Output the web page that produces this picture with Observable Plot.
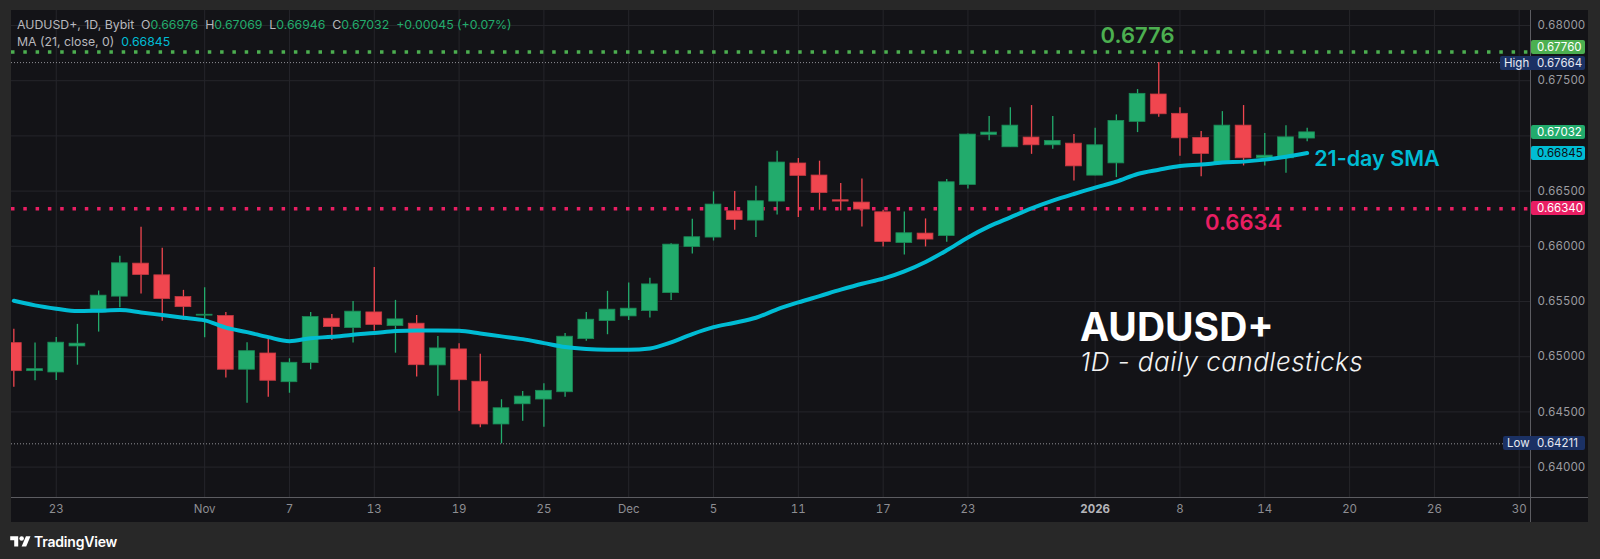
<!DOCTYPE html>
<html>
<head>
<meta charset="utf-8">
<script src="https://cdn.jsdelivr.net/npm/d3@7"></script>
<script src="https://cdn.jsdelivr.net/npm/@observablehq/plot@0.6"></script>
<style>
html, body { margin: 0; padding: 0; background: #282828; }
#wrap { position: relative; width: 1600px; height: 559px; overflow: hidden; background: #282828; font-family: Inter, Roboto, "Noto Sans", sans-serif; }
#panel { position: absolute; left: 11px; top: 10px; width: 1577px; height: 512px; background: #131317; }
#chart { position: absolute; left: 0; top: 0; }
.ov { position: absolute; white-space: nowrap; }
.box { position: absolute; height: 14px; line-height: 14px; font-size: 11.5px; border-radius: 2px; color: #fff; box-sizing: border-box; }
.hdr { position: absolute; left: 17px; font-size: 12.3px; color: #b8b8bd; white-space: pre; }
</style>
</head>
<body>
<div id="wrap">
  <div id="panel"></div>
  <div id="chart"></div>
</div>
<script>
// ---- trading days shown (daily candles) ----
const dates = [
  "2025-10-21","2025-10-22","2025-10-23","2025-10-24","2025-10-27","2025-10-28","2025-10-29","2025-10-30","2025-10-31",
  "2025-11-03","2025-11-04","2025-11-05","2025-11-06","2025-11-07","2025-11-10","2025-11-11","2025-11-12","2025-11-13",
  "2025-11-14","2025-11-17","2025-11-18","2025-11-19","2025-11-20","2025-11-21","2025-11-24","2025-11-25","2025-11-26",
  "2025-11-27","2025-11-28","2025-12-01","2025-12-02","2025-12-03","2025-12-04","2025-12-05","2025-12-08","2025-12-09",
  "2025-12-10","2025-12-11","2025-12-12","2025-12-15","2025-12-16","2025-12-17","2025-12-18","2025-12-19","2025-12-22",
  "2025-12-23","2025-12-24","2025-12-26","2025-12-29","2025-12-30","2025-12-31","2026-01-02","2026-01-05","2026-01-06",
  "2026-01-07","2026-01-08","2026-01-09","2026-01-12","2026-01-13","2026-01-14","2026-01-15","2026-01-16"
];
const futureDates = ["2026-01-19","2026-01-20","2026-01-21","2026-01-22","2026-01-23","2026-01-26","2026-01-27","2026-01-28","2026-01-29","2026-01-30"];

const open = [
  0.65123,0.64869,0.64857,0.65093,0.65401,0.65544,0.65843,0.65737,0.65540,
  0.65372,0.65368,0.64882,0.65029,0.64769,0.64942,0.65344,0.65259,0.65401,
  0.65277,0.65299,0.64921,0.65066,0.64773,0.64386,0.64569,0.64612,0.64678,
  0.65159,0.65323,0.65365,0.65413,0.65576,0.65994,0.66079,0.66317,0.66233,
  0.66405,0.66750,0.66641,0.66417,0.66396,0.66308,0.66030,0.66115,0.66093,
  0.66556,0.67009,0.66897,0.66985,0.66915,0.66930,0.66640,0.66751,0.67127,
  0.67375,0.67200,0.66982,0.66751,0.67093,0.66797,0.66797,0.66976
];
const high = [
  0.65248,0.65123,0.65175,0.65293,0.65595,0.65909,0.66172,0.65982,0.65601,
  0.65625,0.65401,0.65127,0.65184,0.64981,0.65401,0.65383,0.65501,0.65807,
  0.65510,0.65374,0.65184,0.65117,0.65023,0.64610,0.64685,0.64755,0.65211,
  0.65401,0.65592,0.65667,0.65710,0.66024,0.66245,0.66493,0.66496,0.66544,
  0.66862,0.66795,0.66771,0.66569,0.66610,0.66327,0.66311,0.66248,0.66605,
  0.67018,0.67175,0.67254,0.67275,0.67175,0.67012,0.67069,0.67190,0.67420,
  0.67664,0.67254,0.67039,0.67220,0.67275,0.67021,0.67093,0.67069
];
const low = [
  0.64724,0.64782,0.64785,0.64923,0.65223,0.65444,0.65567,0.65322,0.65329,
  0.65172,0.64806,0.64579,0.64633,0.64669,0.64882,0.65147,0.65123,0.65232,
  0.65032,0.64815,0.64642,0.64506,0.64356,0.64211,0.64415,0.64361,0.64633,
  0.65141,0.65199,0.65329,0.65350,0.65510,0.65930,0.66048,0.66145,0.66079,
  0.66284,0.66260,0.66327,0.66320,0.66175,0.65994,0.65921,0.65994,0.66036,
  0.66519,0.66957,0.66897,0.66833,0.66878,0.66592,0.66640,0.66622,0.67030,
  0.67169,0.66815,0.66631,0.66751,0.66728,0.66728,0.66661,0.66946
];
const close = [
  0.64869,0.64887,0.65127,0.65118,0.65553,0.65846,0.65740,0.65522,0.65449,
  0.65380,0.64882,0.65050,0.64782,0.64945,0.65359,0.65268,0.65408,0.65288,
  0.65338,0.64923,0.65075,0.64787,0.64386,0.64533,0.64639,0.64691,0.65181,
  0.65335,0.65426,0.65435,0.65655,0.66015,0.66082,0.66378,0.66239,0.66408,
  0.66759,0.66638,0.66483,0.66405,0.66333,0.66039,0.66118,0.66061,0.66580,
  0.67012,0.67030,0.67093,0.66915,0.66955,0.66724,0.66915,0.67136,0.67381,
  0.67196,0.66978,0.66837,0.67093,0.66797,0.66821,0.66987,0.67032
];
// 21-day simple moving average, as drawn
const sma21 = [
  0.65507,0.65465,0.65435,0.65413,0.65417,0.65422,0.65401,0.65377,0.65353,
  0.65329,0.65263,0.65223,0.65177,0.65141,0.65168,0.65180,0.65199,0.65214,
  0.65232,0.65238,0.65238,0.65235,0.65211,0.65184,0.65159,0.65123,0.65087,
  0.65069,0.65063,0.65063,0.65075,0.65130,0.65205,0.65268,0.65308,0.65353,
  0.65429,0.65492,0.65549,0.65607,0.65661,0.65707,0.65773,0.65858,0.65964,
  0.66080,0.66180,0.66262,0.66343,0.66413,0.66474,0.66531,0.66585,0.66655,
  0.66694,0.66728,0.66740,0.66758,0.66767,0.66785,0.66812,0.66845
];

// ---- time axis ticks ----
const tickDates = ["2025-10-23","2025-11-03","2025-11-07","2025-11-13","2025-11-19","2025-11-25","2025-12-01","2025-12-05",
                   "2025-12-11","2025-12-17","2025-12-23","2026-01-02","2026-01-08","2026-01-14","2026-01-20","2026-01-26","2026-01-30"];
const tickLabels = ["23","Nov","7","13","19","25","Dec","5","11","17","23","2026","8","14","20","26","30"];

// ---- price axis ----
const priceTicks = [0.640, 0.645, 0.650, 0.655, 0.660, 0.665, 0.675, 0.680];
const gridPrices = [0.640, 0.645, 0.650, 0.655, 0.660, 0.665, 0.670, 0.675, 0.680];

// ---- horizontal levels ----
const levelValues = [0.6776, 0.6634];
const levelLabels = ["0.6776", "0.6634"];
const levelColors = ["#4caf50", "#e91e63"];
const levelAnchorDates = ["2026-01-06", "2026-01-13"];
const periodHigh = 0.67664;
const periodLow = 0.64211;

// ---- styles ----
const UP = "#22ab6c", DOWN = "#f0464f";
const UP_EDGE = "#1a8a57", DOWN_EDGE = "#c63a43";
const SMA = "#00bcd4";

const allDates = dates.concat(futureDates);
const bars = dates.map((d, i) => ({i, date: d, o: open[i], h: high[i], l: low[i], c: close[i], s: sma21[i]}));
const tickIdx = tickDates.map(d => allDates.indexOf(d));
const labelOf = new Map(tickIdx.map((t, k) => [t, tickLabels[k]]));
const yearIdx = tickIdx.filter(t => /^\d{4}$/.test(labelOf.get(t)));
const plainIdx = tickIdx.filter(t => !yearIdx.includes(t));
const levels = levelValues.map((v, k) => ({value: v, label: levelLabels[k], color: levelColors[k], i: dates.indexOf(levelAnchorDates[k])}));
const lastBar = bars[bars.length - 1];

const plot = Plot.plot({
  width: 1600,
  height: 559,
  marginLeft: 11,
  marginRight: 69,
  marginTop: 10,
  marginBottom: 62,
  style: {background: "transparent", color: "#9c9ca1", fontFamily: "Inter, Roboto, sans-serif", fontSize: "11.5px", overflow: "visible"},
  x: {type: "linear", domain: [-0.11, allDates.length - 0.42], axis: null, label: null},
  y: {domain: [0.637246, 0.681359], axis: null, label: null},
  color: {type: "identity"},
  marks: [
    Plot.gridY(gridPrices, {stroke: "#25252a", strokeOpacity: 1}),
    Plot.gridX(tickIdx, {stroke: "#25252a", strokeOpacity: 1}),
    Plot.ruleY([periodHigh, periodLow], {stroke: "#8f8f94", strokeWidth: 1, strokeDasharray: "1 2"}),
    Plot.ruleY(levels, {y: "value", stroke: "color", strokeWidth: 3.5, strokeDasharray: "3.5 8.8"}),
    Plot.ruleX(bars, {x: "i", y1: "l", y2: "h", stroke: d => d.c >= d.o ? UP : DOWN, strokeWidth: 1.3, clip: true}),
    Plot.rect(bars, {
      x1: d => d.i - 0.5, x2: d => d.i + 0.5, insetLeft: 2.7, insetRight: 2.7,
      y1: d => Math.min(d.o, d.c), y2: d => Math.max(d.o, d.c),
      fill: d => d.c >= d.o ? UP : DOWN, stroke: d => d.c >= d.o ? UP_EDGE : DOWN_EDGE, strokeWidth: 0.8, clip: true
    }),
    Plot.line(bars, {x: "i", y: "s", stroke: SMA, strokeWidth: 4, curve: "monotone-x", clip: true}),
    Plot.axisY(priceTicks, {anchor: "right", label: null, tickSize: 0, tickPadding: 6, tickFormat: d3.format(".5f"), fill: "#9c9ca1", fontSize: 11.5}),
    Plot.axisX(plainIdx, {anchor: "bottom", label: null, tickSize: 0, tickPadding: 7, tickFormat: t => labelOf.get(t), fill: "#8e8e93", fontSize: 11.5}),
    Plot.axisX(yearIdx, {anchor: "bottom", label: null, tickSize: 0, tickPadding: 7, tickFormat: t => labelOf.get(t), fill: "#b5b5ba", fontSize: 11.5, fontWeight: "bold"}),
    Plot.text(levels.slice(0, 1), {x: "i", y: "value", text: "label", fill: "color", dy: -16.5, fontSize: 22, fontWeight: 600}),
    Plot.text(levels.slice(1), {x: "i", y: "value", text: "label", fill: "color", dy: 14.5, fontSize: 22, fontWeight: 600}),
    Plot.text([lastBar], {x: "i", y: "s", text: () => "21-day SMA", fill: SMA, dx: 7, dy: 6, textAnchor: "start", fontSize: 21.5, fontWeight: 600})
  ]
});
document.getElementById("chart").appendChild(plot);

const ys = plot.scale("y");
const wrap = document.getElementById("wrap");
function addDiv(cls, style, html) {
  const el = document.createElement("div");
  el.className = cls;
  Object.assign(el.style, style);
  el.innerHTML = html;
  wrap.appendChild(el);
  return el;
}
const fmt5 = d3.format(".5f");

// axis border lines
addDiv("ov", {left: "1530px", top: "10px", width: "1px", height: "512px", background: "#5c5c61"}, "");
addDiv("ov", {left: "11px", top: "496.5px", width: "1577px", height: "1px", background: "#5c5c61"}, "");

// price label boxes (shift = nudge to keep adjacent boxes apart, as the platform does)
function priceBox(v, bg, fg, tag, shift) {
  const top = ys.apply(v) - 7 + (shift || 0);
  if (tag) {
    addDiv("box", {left: (tag === "High" ? 1500 : 1503) + "px", top: top + "px", width: (tag === "High" ? 85 : 82) + "px", background: bg, color: fg, paddingLeft: "4px"}, tag);
  }
  addDiv("box", {left: "1531px", top: top + "px", width: "54px", background: tag ? "transparent" : bg, color: fg, paddingLeft: "6px"}, fmt5(v));
}
priceBox(levelValues[0], "#4caf50", "#ffffff", null, -4);
priceBox(periodHigh, "#1b3164", "#e6e9f2", "High", 0.5);
priceBox(close[close.length - 1], UP, "#ffffff");
priceBox(sma21[sma21.length - 1], SMA, "#0d0d12");
priceBox(levelValues[1], "#e91e63", "#ffffff");
priceBox(periodLow, "#1b3164", "#e6e9f2", "Low");

// legend header
const n = close.length - 1;
const chg = close[n] - close[n - 1];
const pct = chg / close[n - 1] * 100;
const g = s => `<span style="color:${UP}">${s}</span>`;
addDiv("hdr", {top: "17px"},
  `AUDUSD+, 1D, Bybit  O${g(fmt5(open[n]))}  H${g(fmt5(high[n]))}  L${g(fmt5(low[n]))}  C${g(fmt5(close[n]))}  ${g((chg >= 0 ? "+" : "") + fmt5(chg) + " (" + (pct >= 0 ? "+" : "") + pct.toFixed(2) + "%)")}`);
addDiv("hdr", {top: "34px"}, `MA (21, close, 0)  <span style="color:${SMA}">${fmt5(sma21[n])}</span>`);

// title annotation
addDiv("ov", {left: "1080px", top: "303px", fontSize: "39px", fontWeight: "700", color: "#ffffff"}, "AUDUSD+");
addDiv("ov", {left: "1080px", top: "346px", fontSize: "26px", fontWeight: "300", fontStyle: "italic", color: "#f2f2f2", letterSpacing: "0.5px"}, "1D - daily candlesticks");

// TradingView mark
addDiv("ov", {left: "10px", top: "533px", fontSize: "14px", fontWeight: "600", color: "#ffffff", display: "flex", alignItems: "center", gap: "3px", letterSpacing: "-0.2px"},
  `<svg width="21" height="16" viewBox="0 0 36 28"><path d="M14 22H7V11H0V4h14v18z" fill="#fff"/><circle cx="20" cy="8" r="4" fill="#fff"/><path d="M28 22h-8l7.5-18h8L28 22z" fill="#fff"/></svg><span>TradingView</span>`);
</script>
</body>
</html>
